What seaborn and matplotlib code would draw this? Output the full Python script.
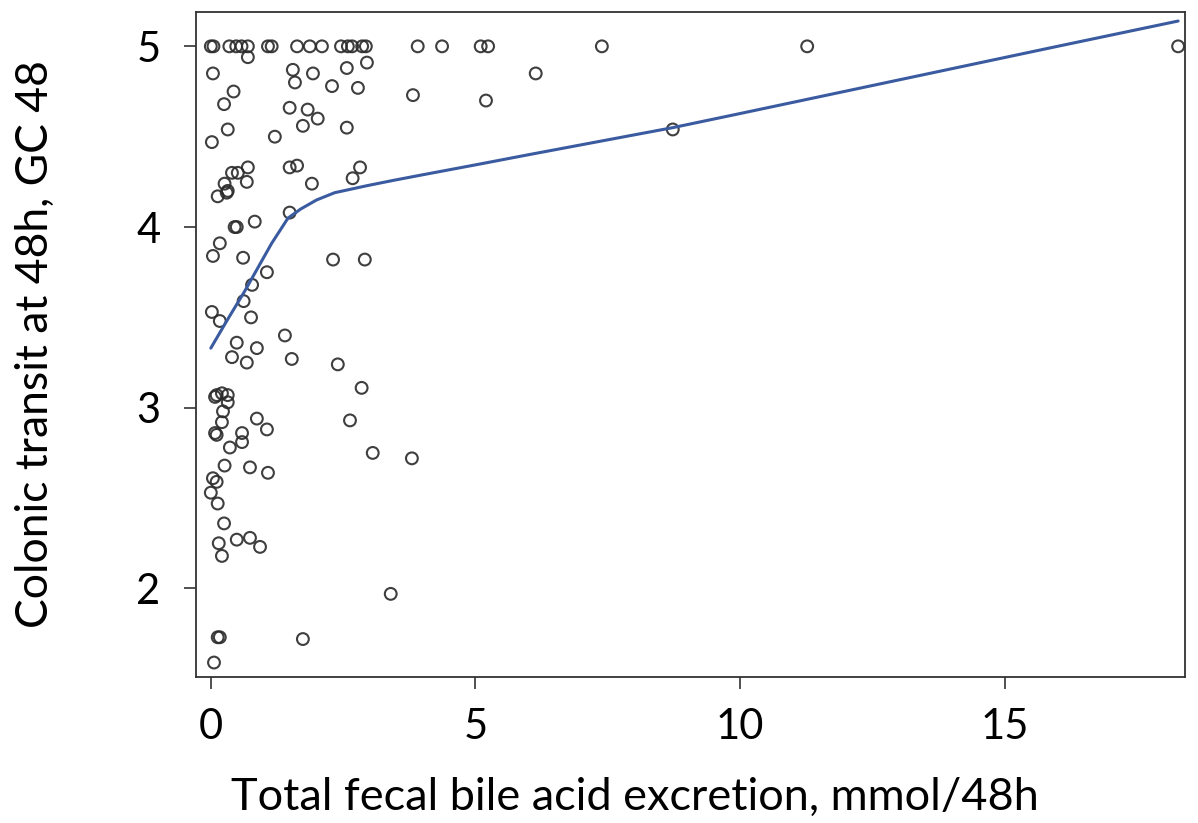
import matplotlib
matplotlib.use("Agg")
import matplotlib.pyplot as plt
import seaborn as sns
import pandas as pd

# Scatter data: total fecal bile acid excretion (mmol/48h) vs colonic transit GC48
bile_acid = [
    0.00, 0.05, 0.35, 0.48, 0.58, 0.70, 1.08, 1.15, 1.63, 1.87, 2.10, 2.46, 2.59,
    2.67, 2.86, 2.93, 3.91, 4.37, 5.10, 5.24, 7.39, 11.27, 18.28,
    0.70, 2.95, 0.04, 1.55, 1.93, 2.57, 1.59, 2.29, 2.78, 0.43, 0.25, 1.49, 1.83,
    2.02, 1.74, 2.57, 0.32, 0.02, 1.21, 0.40, 0.51, 0.70, 0.68, 1.49, 1.63, 0.26,
    0.32, 0.30, 0.13, 1.91, 2.68, 2.82, 1.49, 0.83, 0.45, 0.49, 0.17,
    0.04, 0.61, 2.31, 2.91, 1.06, 0.78, 0.62, 0.02, 0.17, 0.76, 1.40, 0.49, 0.87,
    0.40, 0.68, 1.53, 2.40, 2.85, 0.11, 0.21, 0.32, 0.08, 0.32, 0.23, 0.21, 0.87,
    1.06, 2.63, 0.08, 0.11, 0.59, 0.59, 0.36, 3.06,
    0.26, 0.74, 1.08, 0.04, 0.11, 0.00, 0.13, 0.25, 0.15, 0.49, 0.74, 0.93, 0.21,
    3.40, 0.13, 0.17, 1.74, 0.06,
    3.82, 5.20, 6.14, 3.80, 8.73,
]
transit = [
    5.00, 5.00, 5.00, 5.00, 5.00, 5.00, 5.00, 5.00, 5.00, 5.00, 5.00, 5.00, 5.00,
    5.00, 5.00, 5.00, 5.00, 5.00, 5.00, 5.00, 5.00, 5.00, 5.00,
    4.94, 4.91, 4.85, 4.87, 4.85, 4.88, 4.80, 4.78, 4.77, 4.75, 4.68, 4.66, 4.65,
    4.60, 4.56, 4.55, 4.54, 4.47, 4.50, 4.30, 4.30, 4.33, 4.25, 4.33, 4.34, 4.24,
    4.20, 4.19, 4.17, 4.24, 4.27, 4.33, 4.08, 4.03, 4.00, 4.00, 3.91,
    3.84, 3.83, 3.82, 3.82, 3.75, 3.68, 3.59, 3.53, 3.48, 3.50, 3.40, 3.36, 3.33,
    3.28, 3.25, 3.27, 3.24, 3.11, 3.07, 3.08, 3.07, 3.06, 3.03, 2.98, 2.92, 2.94,
    2.88, 2.93, 2.86, 2.85, 2.86, 2.81, 2.78, 2.75,
    2.68, 2.67, 2.64, 2.61, 2.59, 2.53, 2.47, 2.36, 2.25, 2.27, 2.28, 2.23, 2.18,
    1.97, 1.73, 1.73, 1.72, 1.59,
    4.73, 4.70, 4.85, 2.72, 4.54,
]

# Smoothed fit curve
fit_x = [0.0, 0.3, 0.64, 0.9, 1.15, 1.46, 1.7, 2.0, 2.34, 2.97, 3.48, 4.0, 5.0,
         6.0, 7.0, 8.0, 8.73, 10.0, 12.0, 14.0, 16.0, 18.28]
fit_y = [3.33, 3.48, 3.645, 3.78, 3.91, 4.05, 4.10, 4.15, 4.19, 4.23, 4.26, 4.289, 4.344,
         4.40, 4.455, 4.51, 4.55, 4.628, 4.752, 4.876, 5.00, 5.14]

x_ticks = [0, 5, 10, 15]
y_ticks = [2, 3, 4, 5]
x_label = "Total fecal bile acid excretion, mmol/48h"
y_label = "Colonic transit at 48h, GC 48"

df = pd.DataFrame({"x": bile_acid, "y": transit})
fit = pd.DataFrame({"x": fit_x, "y": fit_y})

sns.set_style("white")
plt.rcParams["font.family"] = ["Lato", "DejaVu Sans"]

fig = plt.figure(figsize=(11.98, 8.23), dpi=100)
ax = fig.add_axes([196 / 1198, 1 - 677 / 823, (1185 - 196) / 1198, (677 - 12) / 823])

sns.scatterplot(data=df, x="x", y="y", ax=ax, marker="o", s=72,
                facecolor="none", edgecolor="#2a2a2a", linewidth=1.5, alpha=0.9)
sns.lineplot(data=fit, x="x", y="y", ax=ax, color="#3a5ba0", linewidth=2.2,
             estimator=None, sort=False)

ax.set_xlim(-0.28, 18.41)
ax.set_ylim(1.51, 5.19)
ax.set_xticks(x_ticks)
ax.set_yticks(y_ticks)
ax.tick_params(axis="both", direction="out", length=8.5, width=1.2, color="#333333",
               labelsize=30, labelcolor="black", left=True, bottom=True)
ax.tick_params(axis="x", pad=14)
ax.tick_params(axis="y", pad=17)
for sp in ax.spines.values():
    sp.set_visible(True)
    sp.set_color("#333333")
    sp.set_linewidth(1.3)

ax.set_xlabel(x_label, fontsize=32.5, color="black")
ax.set_ylabel(y_label, fontsize=32, color="black", labelpad=58)
ax.xaxis.set_label_coords((635 - 196) / 989, -0.150)

fig.savefig("out.png", dpi=100)
